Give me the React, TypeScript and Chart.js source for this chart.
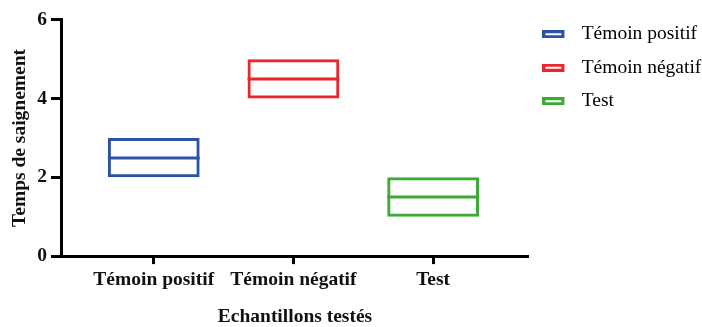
import React, { useEffect, useRef } from "react";
import { Chart, registerables } from "chart.js";

Chart.register(...registerables);

const categories = ["Témoin positif", "Témoin négatif", "Test"];
const lowValues = [2, 4, 1];
const medianValues = [2.5, 4.5, 1.5];
const highValues = [3, 5, 2];
const colors = ["#2B52A5", "#EC252B", "#3DAA34"];
const yTicks = [0, 2, 4, 6];
const xTitle = "Echantillons testés";
const yTitle = "Temps de saignement";

const FONT = "'Liberation Serif', 'Times New Roman', serif";
const FS = 19.5;

function makeSwatch(color: string) {
  const c = document.createElement("canvas");
  c.width = 30;
  c.height = 8;
  const ctx = c.getContext("2d")!;
  ctx.strokeStyle = color;
  ctx.lineWidth = 3;
  ctx.strokeRect(1.5, 1.5, 19, 5);
  return c;
}

const medianPlugin = {
  id: "medianLines",
  afterDatasetsDraw(chart: any) {
    const meta = chart.getDatasetMeta(0);
    const yScale = chart.scales.y;
    const ctx = chart.ctx;
    ctx.save();
    meta.data.forEach((el: any, i: number) => {
      const y = yScale.getPixelForValue(medianValues[i]);
      const half = el.width / 2;
      ctx.fillStyle = colors[i];
      ctx.fillRect(el.x - half, Math.round(y) - 1.5, el.width, 3);
    });
    ctx.restore();
  },
};

export default function App() {
  const ref = useRef<HTMLCanvasElement>(null);
  useEffect(() => {
    const swatches = colors.map(makeSwatch);
    const chart = new Chart(ref.current!, {
      type: "bar",
      data: {
        datasets: [
          {
            label: "box",
            data: categories.map((_, i) => ({ x: i, y: [lowValues[i], highValues[i]] })) as any,
            borderWidth: 3,
            backgroundColor: "rgba(0,0,0,0)",
            borderColor: colors,
            borderSkipped: false,
            barPercentage: 0.657,
            categoryPercentage: 1,
          } as any,
        ],
      },
      plugins: [medianPlugin],
      options: {
        animation: false,
        responsive: false,
        maintainAspectRatio: false,
        layout: { padding: { top: 10.5, left: 9.75, bottom: 0, right: 0 } },
        plugins: {
          tooltip: { enabled: false },
          legend: {
            position: "right",
            align: "start",
            labels: {
              usePointStyle: true,
              pointStyleWidth: 29,
              boxHeight: 8,
              padding: 14,
              color: "#222",
              font: { family: FONT, size: FS },
              generateLabels: () =>
                categories.map((c, i) => ({
                  text: c,
                  fillStyle: "rgba(0,0,0,0)",
                  strokeStyle: colors[i],
                  lineWidth: 0,
                  pointStyle: swatches[i],
                  hidden: false,
                  datasetIndex: 0,
                })) as any,
            },
          },
        },
        scales: {
          x: {
            type: "linear",
            offset: false,
            min: -0.664,
            max: 2.686,
            afterBuildTicks: (scale: any) => {
              scale.ticks = categories.map((_, i) => ({ value: i }));
            },
            ticks: {
              callback: (v: any) => categories[v as number],
              color: "#111",
              font: { family: FONT, size: FS, weight: "bold" },
              padding: 4,
              maxRotation: 0,
              autoSkip: false,
            },
            grid: {
              display: true,
              offset: false,
              drawOnChartArea: false,
              drawTicks: true,
              tickLength: 8,
              tickWidth: 3,
              tickColor: "#000",
            },
            border: { display: true, color: "#000", width: 3 },
            title: {
              display: true,
              text: xTitle,
              color: "#111",
              font: { family: FONT, size: FS, weight: "bold", lineHeight: 1 },
              padding: { top: 12, bottom: 0 },
            },
          },
          y: {
            min: 0,
            max: 6,
            afterBuildTicks: (scale: any) => {
              scale.ticks = yTicks.map((v) => ({ value: v }));
            },
            ticks: {
              color: "#111",
              font: { family: FONT, size: FS, weight: "bold", lineHeight: 1.62 },
              padding: 4,
            },
            grid: {
              display: true,
              drawOnChartArea: false,
              drawTicks: true,
              tickLength: 10,
              tickWidth: 3,
              tickColor: "#000",
            },
            border: { display: true, color: "#000", width: 3 },
            title: {
              display: true,
              text: yTitle,
              color: "#111",
              font: { family: FONT, size: FS, weight: "bold", lineHeight: 1 },
              padding: { top: 0, bottom: 4 },
            },
          },
        },
      },
    });
    return () => chart.destroy();
  }, []);
  return (
    <div style={{ position: "absolute", left: 0, top: 0, width: 702, height: 327, background: "#fff" }}>
      <canvas ref={ref} width={702} height={327} style={{ width: 702, height: 327 }} />
    </div>
  );
}
